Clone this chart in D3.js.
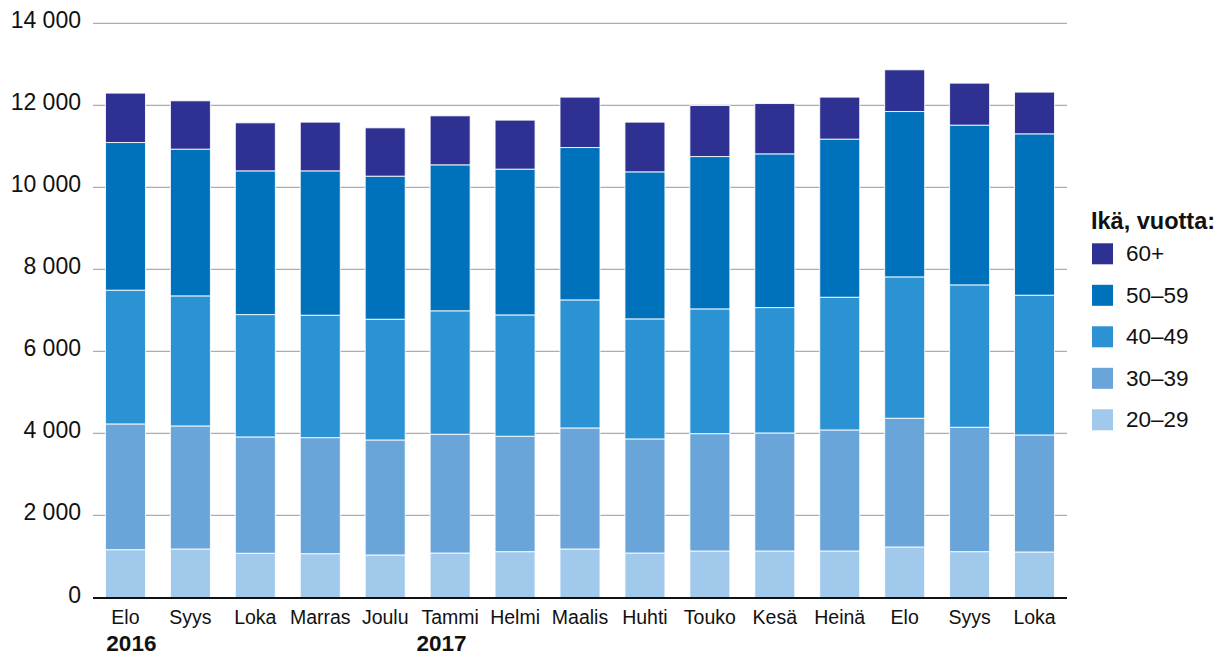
<!DOCTYPE html>
<html>
<head>
<meta charset="utf-8">
<script src="https://cdn.jsdelivr.net/npm/d3@7"></script>
<style>
  html, body { margin: 0; padding: 0; background: #fff; }
  svg { display: block; font-family: "Liberation Sans", Arial, sans-serif; }
</style>
</head>
<body>
<svg id="chart" width="1228" height="655"></svg>
<script>
// ---- Data ----
const months = ["Elo", "Syys", "Loka", "Marras", "Joulu", "Tammi", "Helmi", "Maalis", "Huhti", "Touko", "Kesä", "Heinä", "Elo", "Syys", "Loka"];
const years = [{index: 0, label: "2016"}, {index: 5, label: "2017"}];
const seriesNames = ["20–29", "30–39", "40–49", "50–59", "60+"];
const age20_29 = [1166, 1183, 1078, 1068, 1037, 1085, 1118, 1183, 1085, 1134, 1134, 1134, 1232, 1118, 1110];
const age30_39 = [3066, 3000, 2837, 2830, 2804, 2895, 2814, 2951, 2781, 2861, 2878, 2951, 3139, 3033, 2853];
const age40_49 = [3261, 3171, 2983, 2985, 2944, 3010, 2958, 3122, 2927, 3042, 3057, 3236, 3446, 3471, 3408];
const age50_59 = [3600, 3578, 3504, 3519, 3488, 3559, 3554, 3715, 3585, 3714, 3748, 3855, 4032, 3895, 3934];
const age60 = [1205, 1178, 1171, 1188, 1178, 1195, 1195, 1229, 1212, 1244, 1227, 1024, 1017, 1024, 1017];
const yTicks = [0, 2000, 4000, 6000, 8000, 10000, 12000, 14000];
const legendTitle = "Ikä, vuotta:";
const colors = ["#a0c9eb", "#69a5d8", "#2b92d4", "#0071bb", "#2e3192"];

// ---- Build table ----
const seriesValues = [age20_29, age30_39, age40_49, age50_59, age60];
const keys = seriesNames;
const table = months.map((m, i) => {
  const row = {idx: i, month: m};
  keys.forEach((k, j) => row[k] = seriesValues[j][i]);
  return row;
});
const stacked = d3.stack().keys(keys)(table);

// ---- Layout ----
const svg = d3.select("#chart");
const plotLeft = 93, plotRight = 1067, plotTop = 23.3, plotBottom = 597.5;

const x = d3.scaleBand().domain(d3.range(months.length)).range([plotLeft, plotRight]).paddingInner(0.384).paddingOuter(0.192);
const y = d3.scaleLinear().domain([0, 14000]).range([plotBottom, plotTop]);
const color = d3.scaleOrdinal().domain(keys).range(colors);
const fmt = v => d3.format(",")(v).replace(/,/g, " ");

// Gridlines
svg.append("g").selectAll("line")
  .data(yTicks.filter(d => d > 0))
  .join("line")
  .attr("x1", plotLeft).attr("x2", plotRight)
  .attr("y1", d => y(d)).attr("y2", d => y(d))
  .attr("stroke", "#adadad").attr("stroke-width", 1.3);

// Y labels
svg.append("g").selectAll("text")
  .data(yTicks)
  .join("text")
  .attr("x", 81)
  .attr("y", d => y(d) + 5)
  .attr("text-anchor", "end")
  .attr("font-size", 23)
  .attr("fill", "#111")
  .text(fmt);

// Bars
svg.append("g").selectAll("g")
  .data(stacked)
  .join("g")
  .attr("fill", d => color(d.key))
  .selectAll("rect")
  .data(d => d)
  .join("rect")
  .attr("x", d => x(d.data.idx))
  .attr("width", x.bandwidth())
  .attr("y", d => y(d[1]))
  .attr("height", d => y(d[0]) - y(d[1]))
  .attr("stroke", "#fff")
  .attr("stroke-opacity", 0.85)
  .attr("stroke-width", 1);

// Baseline
svg.append("line")
  .attr("x1", plotLeft).attr("x2", plotRight)
  .attr("y1", y(0) + 0.5).attr("y2", y(0) + 0.5)
  .attr("stroke", "#111").attr("stroke-width", 2);

// X labels
const xl = svg.append("g").selectAll("text")
  .data(months)
  .join("text")
  .attr("x", (d, i) => x(i) + x.bandwidth() / 2)
  .attr("y", 624)
  .attr("text-anchor", "middle")
  .attr("font-size", 19.5)
  .attr("fill", "#111")
  .text(d => d);

const xlNodes = xl.nodes();
svg.append("g").selectAll("text")
  .data(years)
  .join("text")
  .attr("x", d => xlNodes[d.index].getBBox().x - 5)
  .attr("y", 651)
  .attr("text-anchor", "start")
  .attr("font-size", 22.5)
  .attr("font-weight", "bold")
  .attr("fill", "#111")
  .text(d => d.label);

// Legend
const lg = svg.append("g");
lg.append("text")
  .attr("x", 1091)
  .attr("y", 229)
  .attr("font-size", 23.5)
  .attr("font-weight", "bold")
  .attr("fill", "#111")
  .text(legendTitle);

const legendKeys = keys.slice().reverse();
const li = lg.selectAll("g.item")
  .data(legendKeys)
  .join("g")
  .attr("class", "item")
  .attr("transform", (d, i) => `translate(1092, ${243.3 + i * 41.5})`);
li.append("rect")
  .attr("width", 21).attr("height", 21)
  .attr("fill", d => color(d));
li.append("text")
  .attr("x", 34)
  .attr("y", 18)
  .attr("font-size", 22.5)
  .attr("fill", "#111")
  .text(d => d);
</script>
</body>
</html>
